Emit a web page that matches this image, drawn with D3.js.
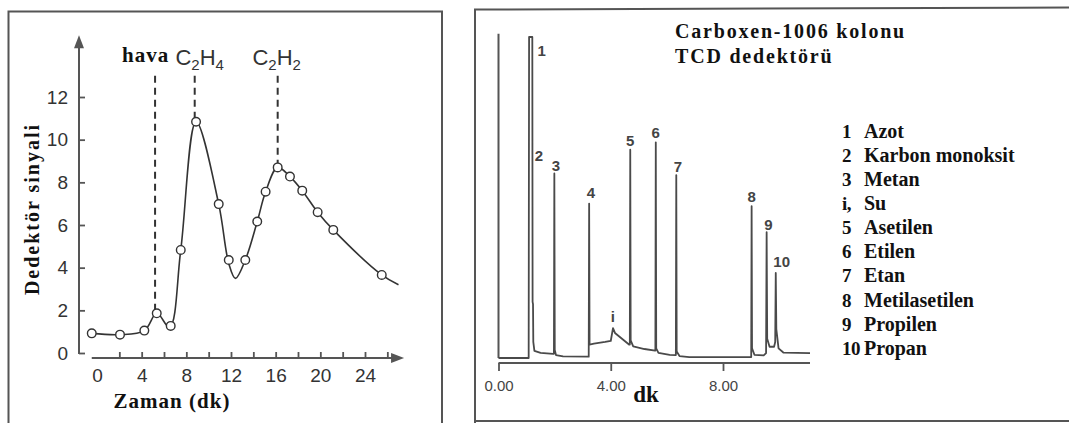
<!DOCTYPE html>
<html>
<head>
<meta charset="utf-8">
<script src="https://cdn.jsdelivr.net/npm/d3@7"></script>
<style>
  html, body { margin: 0; padding: 0; background: #fff; }
  svg { display: block; }
</style>
</head>
<body>
<svg id="chart" width="1069" height="423"></svg>
<script>
// ---------------- LEFT PANEL DATA ----------------
const leftXTicks = [2, 4, 6, 8, 10, 12, 14, 16, 18, 20, 22, 24, 26];
const leftXLabels = [0, 4, 8, 12, 16, 20, 24];
const leftYTicks = [0, 2, 4, 6, 8, 10, 12];
// measured points (circles)
const pointTime = [-0.47, 2.06, 4.24, 5.35, 6.6, 7.5, 8.87, 10.9, 11.8, 13.28, 14.35, 15.1, 16.18, 17.28, 18.38, 19.76, 21.16, 25.5];
const pointSignal = [0.92, 0.86, 1.05, 1.86, 1.27, 4.83, 10.84, 6.98, 4.36, 4.36, 6.16, 7.56, 8.7, 8.27, 7.61, 6.6, 5.77, 3.66];
// drawn smooth curve
const curveTime = [-0.47, 2.06, 4.24, 5.35, 6.5, 7.5, 8.87, 10.9, 11.8, 12.4, 13.28, 14.35, 15.1, 16.18, 17.28, 18.38, 19.76, 21.16, 25.5, 27.0];
const curveSignal = [0.92, 0.86, 1.05, 1.86, 1.2, 4.83, 10.84, 6.98, 4.2, 3.5, 4.36, 6.16, 7.56, 8.7, 8.27, 7.61, 6.6, 5.77, 3.66, 3.2];
// dashed markers
const markerNames = ["hava", "C2H4", "C2H2"];
const markerTime = [5.2, 8.75, 16.18];
const markerSignal = [1.86, 10.84, 8.7];
const markerTop = 13.0;

// ---------------- RIGHT PANEL DATA ----------------
const rightXTicks = [0, 4, 8];
const rightXLabels = ["0.00", "4.00", "8.00"];
const traceTime = [0, 1.075, 1.09, 1.205, 1.215, 1.23, 1.24, 1.28, 1.5, 1.95,
  1.975, 1.99, 2.005, 2.05, 2.3, 3.2,
  3.215, 3.23, 3.245, 3.4, 3.8, 4.0, 4.08, 4.15, 4.4, 4.65,
  4.68, 4.695, 4.71, 4.8, 5.2, 5.58,
  5.59, 5.605, 5.62, 5.7, 6.1, 6.31,
  6.32, 6.335, 6.35, 6.45, 6.8, 8.99,
  9.005, 9.02, 9.035, 9.12, 9.45,
  9.535, 9.555, 9.575, 9.66, 9.82,
  9.86, 9.88, 9.9, 9.98, 10.15, 11.1];
const traceSignal = [0, 0, 100, 100, 17.5, 16.8, 5, 2.2, 1.6, 1.3,
  1.3, 57.5, 2.5, 0.9, 0.5, 0.4,
  0.4, 48.1, 4.2, 4.5, 5.0, 5.3, 9.3, 7.8, 6.0, 4.2,
  4.2, 64.9, 5.5, 3.6, 2.8, 2.3,
  2.3, 67.2, 3.0, 1.6, 1.0, 0.9,
  0.9, 57.0, 2.0, 0.6, 0.3, 0.3,
  0.3, 47.3, 3.0, 1.0, 0.8,
  1.5, 39.2, 6.0, 3.5, 3.5,
  5.0, 26.5, 9.0, 3.0, 1.7, 1.5];
const peakLabels = ["1", "2", "3", "4", "i", "5", "6", "7", "8", "9", "10"];
const labelTime = [1.54, 1.44, 2.05, 3.29, 4.07, 4.69, 5.60, 6.39, 9.02, 9.62, 10.09];
const labelLevel = [95.9, 62.9, 59.9, 51.5, 12.8, 67.7, 70.2, 59.6, 50.2, 41.7, 30.0];
const legendKeys = ["1", "2", "3", "i,", "5", "6", "7", "8", "9", "10"];
const legendNames = ["Azot", "Karbon monoksit", "Metan", "Su", "Asetilen", "Etilen", "Etan", "Metilasetilen", "Propilen", "Propan"];
const titleLines = ["Carboxen-1006 kolonu", "TCD dedektörü"];

// ---------------- DRAWING ----------------
const svg = d3.select("#chart");
const frame = "#555";
const ink = "#333";
const serif = "'Liberation Serif', 'Times New Roman', serif";
const sans = "'Liberation Sans', Arial, sans-serif";

svg.append("rect").attr("width", 1069).attr("height", 423).attr("fill", "#fff");

// frames
const fr = svg.append("g").attr("fill", "none").attr("stroke", frame).attr("stroke-width", 2);
fr.append("path").attr("d", "M8.5,423 L8.5,11.5 L442,11.5 L442,423");
fr.append("path").attr("d", "M475,423 L475,9.5 L1069,7.5");
fr.append("path").attr("d", "M475,421 L1069,421");

// ---- left chart
const xL = d3.scaleLinear().domain([0, 24]).range([97, 365]);
const yL = d3.scaleLinear().domain([0, 12]).range([353, 97]);
const L = svg.append("g");

// y axis
const yAxisG = L.append("g").attr("transform", `translate(${79},0)`)
  .call(d3.axisLeft(yL).tickValues(leftYTicks).tickSizeInner(-6).tickSizeOuter(0).tickPadding(11));
yAxisG.select(".domain").remove();
yAxisG.selectAll("line").attr("stroke", frame).attr("stroke-width", 1.8);
yAxisG.selectAll("text").attr("font-family", sans).attr("font-size", 19).attr("fill", ink);
L.append("line").attr("x1", 79).attr("x2", 79).attr("y1", yL(0) + 1).attr("y2", yL(14.4))
  .attr("stroke", frame).attr("stroke-width", 2);
L.append("path").attr("d", `M79,${yL(14.9)} L74,${yL(14.9) + 13} L84,${yL(14.9) + 13} Z`).attr("fill", frame);

// x axis
const xBase = 358;
const xTickG = L.append("g").attr("transform", `translate(0,${xBase})`)
  .call(d3.axisBottom(xL).tickValues(leftXTicks).tickSizeInner(-6).tickSizeOuter(0).tickFormat(""));
xTickG.select(".domain").remove();
xTickG.selectAll("line").attr("stroke", frame).attr("stroke-width", 1.8);
const xLabG = L.append("g").attr("transform", `translate(0,${xBase})`)
  .call(d3.axisBottom(xL).tickValues(leftXLabels).tickSize(0).tickPadding(11));
xLabG.select(".domain").remove();
xLabG.selectAll("text").attr("font-family", sans).attr("font-size", 19).attr("fill", ink);
L.append("line").attr("x1", xL(-0.47)).attr("x2", xL(26.6)).attr("y1", xBase).attr("y2", xBase)
  .attr("stroke", frame).attr("stroke-width", 2);
L.append("path").attr("d", `M${xL(27.5)},${xBase} L${xL(27.5) - 13},${xBase - 5} L${xL(27.5) - 13},${xBase + 5} Z`).attr("fill", frame);

// dashed markers
markerNames.forEach((n, i) => {
  L.append("line").attr("x1", xL(markerTime[i])).attr("x2", xL(markerTime[i]))
    .attr("y1", yL(markerTop)).attr("y2", yL(markerSignal[i]) - 4)
    .attr("stroke", ink).attr("stroke-width", 2).attr("stroke-dasharray", "7,5");
});

// curve
const curveData = curveTime.map((t, i) => [t, curveSignal[i]]);
L.append("path").datum(curveData)
  .attr("d", d3.line().x(d => xL(d[0])).y(d => yL(d[1])).curve(d3.curveCatmullRom.alpha(0.5)))
  .attr("fill", "none").attr("stroke", ink).attr("stroke-width", 1.6);

// points
L.selectAll("circle.pt").data(pointTime.map((t, i) => [t, pointSignal[i]])).enter()
  .append("circle").attr("class", "pt")
  .attr("cx", d => xL(d[0])).attr("cy", d => yL(d[1])).attr("r", 4.3)
  .attr("fill", "#fff").attr("stroke", ink).attr("stroke-width", 1.4);

// marker labels
L.append("text").attr("x", 122).attr("y", 62).attr("font-family", serif).attr("font-weight", "bold")
  .attr("font-size", 21).attr("letter-spacing", 1).attr("fill", "#111").text(markerNames[0]);
function formula(x, y, a, b, c, d) {
  const t = L.append("text").attr("x", x).attr("y", y).attr("font-family", sans)
    .attr("font-size", 22).attr("fill", ink).attr("text-anchor", "middle");
  t.append("tspan").text(a);
  t.append("tspan").attr("font-size", 15).attr("dy", 5).text(b);
  t.append("tspan").attr("dy", -5).text(c);
  t.append("tspan").attr("font-size", 15).attr("dy", 5).text(d);
}
formula(xL(markerTime[1]) + 5, 65, "C", "2", "H", "4");
formula(xL(markerTime[2]) - 1, 65, "C", "2", "H", "2");

// axis titles
L.append("text").attr("x", 172).attr("y", 408).attr("text-anchor", "middle")
  .attr("font-family", serif).attr("font-weight", "bold").attr("font-size", 21)
  .attr("letter-spacing", 1).attr("fill", "#111").text("Zaman (dk)");
L.append("text").attr("transform", "translate(39,209) rotate(-90)").attr("text-anchor", "middle")
  .attr("font-family", serif).attr("font-weight", "bold").attr("font-size", 20)
  .attr("letter-spacing", 2).attr("fill", "#111").text("Dedektör sinyali");

// ---- right chart
const xR = d3.scaleLinear().domain([0, 8]).range([498.5, 723]);
const yR = d3.scaleLinear().domain([0, 100]).range([358, 37]);
const R = svg.append("g");
const axisY = 363;
const rAx = R.append("g").attr("transform", `translate(0,${axisY})`)
  .call(d3.axisBottom(xR).tickValues(rightXTicks).tickSizeInner(8).tickSizeOuter(0).tickPadding(9)
    .tickFormat((d, i) => rightXLabels[i]));
rAx.select(".domain").remove();
rAx.selectAll("line").attr("stroke", frame).attr("stroke-width", 1.8);
rAx.selectAll("text").attr("font-family", sans).attr("font-size", 15).attr("fill", "#444");
R.append("line").attr("x1", xR(0)).attr("x2", xR(11.1)).attr("y1", axisY).attr("y2", axisY)
  .attr("stroke", frame).attr("stroke-width", 2);
R.append("line").attr("x1", xR(0)).attr("x2", xR(0)).attr("y1", yR(0)).attr("y2", yR(101))
  .attr("stroke", frame).attr("stroke-width", 2);

const traceData = traceTime.map((t, i) => [t, traceSignal[i]]);
R.append("path").datum(traceData)
  .attr("d", d3.line().x(d => xR(d[0])).y(d => yR(d[1])))
  .attr("fill", "none").attr("stroke", "#4a4a4a").attr("stroke-width", 1.8).attr("stroke-linejoin", "round");

R.selectAll("text.pk").data(peakLabels).enter().append("text").attr("class", "pk")
  .attr("x", (d, i) => xR(labelTime[i])).attr("y", (d, i) => yR(labelLevel[i]))
  .attr("dy", "0.36em").attr("text-anchor", "middle")
  .attr("font-family", sans).attr("font-weight", "bold").attr("font-size", 15).attr("fill", "#444")
  .text(d => d);

R.append("text").attr("x", 646).attr("y", 402).attr("text-anchor", "middle")
  .attr("font-family", serif).attr("font-weight", "bold").attr("font-size", 23).attr("fill", "#111").text("dk");

titleLines.forEach((s, i) => {
  R.append("text").attr("x", 675).attr("y", 38 + i * 25)
    .attr("font-family", serif).attr("font-weight", "bold").attr("font-size", 20)
    .attr("letter-spacing", 1.8).attr("fill", "#111").text(s);
});

legendKeys.forEach((k, i) => {
  const y = 138.3 + i * 24.03;
  R.append("text").attr("x", 842).attr("y", y).attr("font-family", serif).attr("font-weight", "bold")
    .attr("font-size", 19).attr("letter-spacing", -0.5).attr("fill", "#111").text(k);
  R.append("text").attr("x", 864).attr("y", y).attr("font-family", serif).attr("font-weight", "bold")
    .attr("font-size", 20).attr("fill", "#111").text(legendNames[i]);
});
</script>
</body>
</html>
